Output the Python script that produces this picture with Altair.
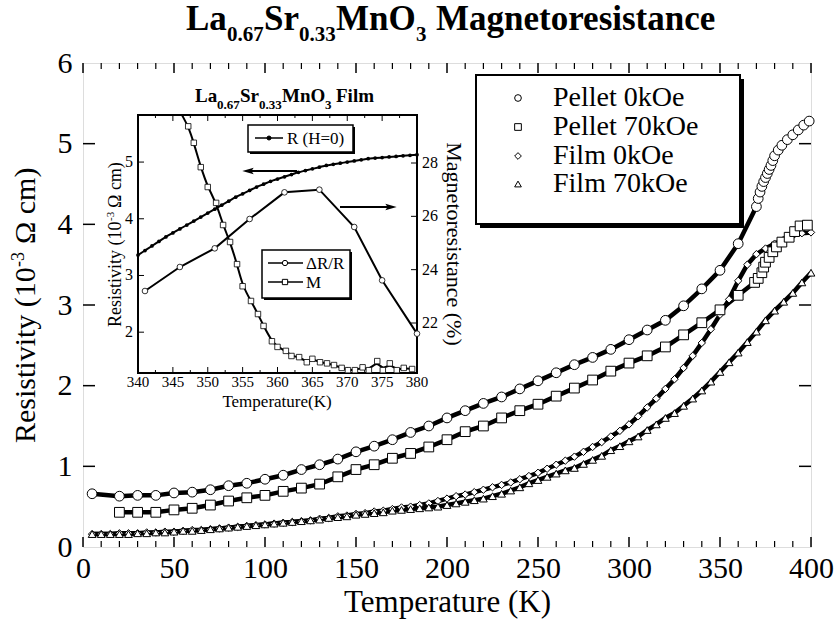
import altair as alt
import pandas as pd

FONT = "Liberation Serif"
W, H = 728, 484

# ---------------- main data (T in K, resistivity in 1e-3 ohm cm) ----------------
P0_T = [5, 20, 30, 40, 50, 60, 70, 80, 90, 100, 110, 120, 130, 140, 150, 160, 170, 180, 190, 200,
        210, 220, 230, 240, 250, 260, 270, 280, 290, 300, 310, 320, 330, 340, 350, 360, 370, 371,
        372, 373, 374, 375, 376, 377, 378, 379, 380, 382, 384, 387, 390, 393, 396, 399]
P0_R = [0.66, 0.63, 0.64, 0.64, 0.67, 0.68, 0.71, 0.76, 0.79, 0.84, 0.89, 0.96, 1.02, 1.09, 1.18, 1.25,
        1.33, 1.42, 1.50, 1.60, 1.69, 1.78, 1.86, 1.96, 2.06, 2.16, 2.26, 2.35, 2.45, 2.57, 2.69, 2.81,
        2.99, 3.20, 3.43, 3.76, 4.22, 4.32, 4.40, 4.47, 4.53, 4.58, 4.63, 4.68, 4.73, 4.79, 4.85, 4.92,
        4.98, 5.05, 5.11, 5.17, 5.23, 5.28]

P70_T = [20, 30, 40, 50, 60, 70, 80, 90, 100, 110, 120, 130, 140, 150, 160, 170, 180, 190, 200, 210,
         220, 230, 240, 250, 260, 270, 280, 290, 300, 310, 320, 330, 340, 350, 360, 369, 371, 373, 374,
         375, 377, 379, 381, 384, 388, 391, 394, 398]
P70_R = [0.43, 0.43, 0.43, 0.46, 0.48, 0.52, 0.57, 0.61, 0.64, 0.69, 0.73, 0.78, 0.87, 0.96, 1.02, 1.10,
         1.16, 1.24, 1.33, 1.43, 1.50, 1.60, 1.69, 1.77, 1.87, 1.97, 2.07, 2.18, 2.28, 2.37, 2.48, 2.63,
         2.78, 2.94, 3.12, 3.28, 3.33, 3.40, 3.47, 3.53, 3.59, 3.66, 3.72, 3.78, 3.84, 3.91, 3.98, 3.99]

FILM_T = [5, 10, 15, 20, 25, 30, 35, 40, 45, 50, 55, 60, 65, 70, 75, 80, 85, 90, 95, 100,
          105, 110, 115, 120, 125, 130, 135, 140, 145, 150, 155, 160, 165, 170, 175, 180, 185, 190, 195, 200,
          205, 210, 215, 220, 225, 230, 235, 240, 245, 250, 255, 260, 265, 270, 275, 280, 285, 290, 295, 300,
          305, 310, 315, 320, 325, 330, 335, 340, 345, 350, 355, 360, 365, 370, 375, 380, 385, 390, 395, 400]
F0_R = [0.16, 0.16, 0.16, 0.17, 0.17, 0.17, 0.18, 0.18, 0.19, 0.19, 0.20, 0.21, 0.21, 0.22, 0.23, 0.24,
        0.25, 0.26, 0.27, 0.28, 0.29, 0.30, 0.31, 0.32, 0.33, 0.35, 0.36, 0.38, 0.39, 0.41, 0.42, 0.44,
        0.45, 0.47, 0.49, 0.50, 0.52, 0.54, 0.57, 0.60, 0.63, 0.65, 0.68, 0.71, 0.74, 0.77, 0.80, 0.84,
        0.88, 0.92, 0.97, 1.02, 1.07, 1.12, 1.18, 1.24, 1.30, 1.37, 1.44, 1.52, 1.62, 1.73, 1.84, 1.96,
        2.08, 2.22, 2.37, 2.53, 2.70, 2.88, 3.07, 3.30, 3.50, 3.63, 3.70, 3.76, 3.81, 3.86, 3.89, 3.90]
F70_R = [0.16, 0.16, 0.16, 0.16, 0.16, 0.17, 0.17, 0.18, 0.18, 0.19, 0.20, 0.20, 0.21, 0.22, 0.23, 0.24,
         0.25, 0.26, 0.27, 0.28, 0.29, 0.30, 0.31, 0.32, 0.33, 0.34, 0.36, 0.37, 0.38, 0.40, 0.41, 0.42,
         0.43, 0.45, 0.46, 0.47, 0.48, 0.49, 0.50, 0.52, 0.54, 0.56, 0.58, 0.60, 0.63, 0.66, 0.70, 0.74,
         0.79, 0.83, 0.87, 0.91, 0.95, 0.98, 1.03, 1.08, 1.13, 1.20, 1.25, 1.31, 1.37, 1.45, 1.52, 1.60,
         1.66, 1.75, 1.84, 1.94, 2.05, 2.17, 2.29, 2.41, 2.54, 2.67, 2.81, 2.93, 3.04, 3.15, 3.28, 3.40]

LEGEND_LABELS = ["Pellet 0kOe", "Pellet 70kOe", "Film 0kOe", "Film 70kOe"]
LEGEND_SHAPES = ["circle", "square", "diamond", "triangle-up"]

MAIN_X_LABELS = [0, 50, 100, 150, 200, 250, 300, 350, 400]
MAIN_X_MINOR = [10, 20, 30, 40, 60, 70, 80, 90, 110, 120, 130, 140, 160, 170, 180, 190, 210, 220, 230, 240,
                260, 270, 280, 290, 310, 320, 330, 340, 360, 370, 380, 390]
MAIN_Y_LABELS = [0, 1, 2, 3, 4, 5, 6]
MAIN_Y_TICKS = [1, 2, 3, 4, 5]

TITLE_PARTS = ["La", "0.67", "Sr", "0.33", "MnO", "3", "Magnetoresistance"]
Y_TITLE_PARTS = ["Resistivity (10", "-3", "\u03a9 cm)"]

# ---------------- inset data ----------------
IN_R_T = [340, 341, 342, 343, 344, 345, 346, 347, 348, 349, 350, 351, 352, 353, 354, 355, 356, 357, 358,
          359, 360, 361, 362, 363, 364, 365, 366, 367, 368, 369, 370, 371, 372, 373, 374, 375, 376, 377,
          378, 379, 380]
IN_R = [3.36, 3.44, 3.52, 3.60, 3.68, 3.75, 3.82, 3.89, 3.96, 4.03, 4.10, 4.17, 4.24, 4.31, 4.38, 4.44,
        4.50, 4.56, 4.61, 4.66, 4.70, 4.74, 4.78, 4.82, 4.85, 4.88, 4.91, 4.94, 4.96, 4.98, 5.00, 5.02,
        5.04, 5.06, 5.07, 5.08, 5.09, 5.10, 5.11, 5.12, 5.13]
IN_DRR_T = [341, 346, 351, 356, 361, 366, 371, 375, 380]
IN_DRR = [23.2, 24.1, 24.8, 25.9, 26.9, 27.0, 25.6, 23.6, 21.6]
IN_M_T = [346.3, 347.2, 348.0, 349.0, 350.0, 351.2, 352.2, 353.2, 354.2, 355.0, 356.2, 357.2, 358.0,
          359.2, 360.0, 361.2, 362.0, 363.1, 364.2, 365.0, 366.1, 367.1, 368.1, 369.2, 370.1, 371.1,
          372.2, 373.1, 374.3, 375.1, 376.1, 377.1, 378.1, 379.3]
IN_M = [5.83, 5.63, 5.34, 4.91, 4.56, 4.28, 3.89, 3.59, 3.20, 2.81, 2.55, 2.32, 2.11, 1.84, 1.74, 1.67,
        1.58, 1.56, 1.47, 1.53, 1.47, 1.45, 1.42, 1.37, 1.33, 1.33, 1.38, 1.33, 1.49, 1.33, 1.45, 1.33,
        1.37, 1.35]
IN_X_LABELS = [340, 345, 350, 355, 360, 365, 370, 375, 380]
IN_X_MINOR = [342.5, 347.5, 352.5, 357.5, 362.5, 367.5, 372.5, 377.5]
IN_YL_LABELS = [2, 3, 4, 5]
IN_YR_LABELS = [22, 24, 26, 28]
INSET_TITLE_PARTS = ["La", "0.67", "Sr", "0.33", "MnO", "3", "Film"]
INSET_YL_PARTS = ["Resistivity (10", "-3", "\u03a9 cm)"]
INSET_YR_TITLE = "Magnetoresistance (%)"
INSET_X_TITLE = "Temperature(K)"
INSET_LEG = ["R (H=0)", "\u0394R/R", "M"]

ONE = pd.DataFrame({"a": [0]})


def xs():
    return alt.Scale(domain=[0, 400], nice=False, zero=False)


def ys():
    return alt.Scale(domain=[0, 6], nice=False, zero=False)


def ixs():
    return alt.Scale(domain=[340, 380], range=[55, 334], nice=False, zero=False)


def iyl():
    return alt.Scale(domain=[1.28, 5.83], range=[310, 52], nice=False, zero=False)


def iyr():
    return alt.Scale(domain=[20.125, 29.8], range=[310, 52], nice=False, zero=False)


def txt(s, x, y, size, bold=False, angle=0, align="left", baseline="alphabetic"):
    kw = dict(font=FONT, fontSize=size, fontWeight="bold" if bold else "normal",
              align=align, baseline=baseline, color="black")
    if angle:
        kw["angle"] = angle
    return alt.Chart(pd.DataFrame({"s": [s]})).mark_text(**kw).encode(
        x=alt.value(x), y=alt.value(y), text="s:N")


def rect(x1, y1, x2, y2, fill, stroke="black", sw=0):
    kw = dict(fill=fill)
    if sw:
        kw.update(stroke=stroke, strokeWidth=sw)
    return alt.Chart(ONE).mark_rect(**kw).encode(
        x=alt.value(x1), x2=alt.value(x2), y=alt.value(y1), y2=alt.value(y2))


def seg(x1, y1, x2, y2, sw=1.5):
    return alt.Chart(ONE).mark_rule(color="black", strokeWidth=sw).encode(
        x=alt.value(x1), x2=alt.value(x2), y=alt.value(y1), y2=alt.value(y2))


def sym(x, y, shape, size, fill="white", sw=1):
    return alt.Chart(ONE).mark_point(shape=shape, size=size, filled=True, fill=fill,
                                     stroke="black", strokeWidth=sw, opacity=1).encode(
        x=alt.value(x), y=alt.value(y))


layers = []

# ---- main axes (labels) with inward ticks ----
x_axis = alt.Axis(values=MAIN_X_LABELS, ticks=False, tickSize=0, domain=False, grid=False,
                  labelFont=FONT, labelFontSize=30, labelColor="black", labelPadding=6,
                  labelFlush=False, labelOverlap=False, format="d",
                  title="Temperature (K)", titleFont=FONT, titleFontSize=31,
                  titleFontWeight="normal", titleColor="black", titlePadding=4)
y_axis = alt.Axis(values=MAIN_Y_LABELS, ticks=False, tickSize=0, domain=False, grid=False,
                  labelFont=FONT, labelFontSize=30, labelColor="black", labelPadding=11,
                  labelFlush=False, labelOverlap=False, format="d", title=None)

dxm = pd.DataFrame({"v": MAIN_X_LABELS})
dxn = pd.DataFrame({"v": MAIN_X_MINOR})
dyt = pd.DataFrame({"v": MAIN_Y_TICKS})
layers.append(alt.Chart(dxm).mark_rule(color="black", strokeWidth=1.5).encode(
    x=alt.X("v:Q", scale=xs(), axis=x_axis), y=alt.value(H), y2=alt.value(H - 10)))
layers.append(alt.Chart(dxm).mark_rule(color="black", strokeWidth=1.5).encode(
    x=alt.X("v:Q", scale=xs(), axis=None), y=alt.value(0), y2=alt.value(10)))
layers.append(alt.Chart(dxn).mark_rule(color="black", strokeWidth=1.2).encode(
    x=alt.X("v:Q", scale=xs(), axis=None), y=alt.value(H), y2=alt.value(H - 6)))
layers.append(alt.Chart(dxn).mark_rule(color="black", strokeWidth=1.2).encode(
    x=alt.X("v:Q", scale=xs(), axis=None), y=alt.value(0), y2=alt.value(6)))
layers.append(alt.Chart(dyt).mark_rule(color="black", strokeWidth=1.5).encode(
    y=alt.Y("v:Q", scale=ys(), axis=y_axis), x=alt.value(0), x2=alt.value(12)))
layers.append(alt.Chart(dyt).mark_rule(color="black", strokeWidth=1.5).encode(
    y=alt.Y("v:Q", scale=ys(), axis=None), x=alt.value(W), x2=alt.value(W - 12)))

# ---- main series ----
series = [
    (FILM_T, F0_R, "diamond", 55),
    (FILM_T, F70_R, "triangle-up", 60),
    (P70_T, P70_R, "square", 95),
    (P0_T, P0_R, "circle", 95),
]
for T, R, shape, size in series:
    df = pd.DataFrame({"T": T, "R": R})
    base = alt.Chart(df).encode(x=alt.X("T:Q", scale=xs(), axis=None),
                                y=alt.Y("R:Q", scale=ys(), axis=None))
    layers.append(base.mark_line(color="black", strokeWidth=4.5))
for T, R, shape, size in series:
    df = pd.DataFrame({"T": T, "R": R})
    base = alt.Chart(df).encode(x=alt.X("T:Q", scale=xs(), axis=None),
                                y=alt.Y("R:Q", scale=ys(), axis=None))
    layers.append(base.mark_point(shape=shape, size=size, filled=True, fill="white",
                                  stroke="black", strokeWidth=1, opacity=1))

# ---- main title (with subscripts) ----
tx = [103, 144, 181, 216, 253, 333, 353]
for i, s in enumerate(TITLE_PARTS):
    sub = s in ("0.67", "0.33", "3")
    layers.append(txt(s, tx[i], -22 if sub else -33, 21 if sub else 35, bold=True))

# ---- main y title (with superscript) ----
layers.append(txt(Y_TITLE_PARTS[0], -48, 380, 30, angle=270))
layers.append(txt(Y_TITLE_PARTS[1], -59, 204, 18, angle=270))
layers.append(txt(Y_TITLE_PARTS[2], -48, 181, 30, angle=270))

# ---- main legend ----
layers.append(rect(397, 16, 661, 165, "black"))
layers.append(rect(393, 12, 657, 161, "white", sw=2))
ly = [35, 64, 93, 121]
for i, lab in enumerate(LEGEND_LABELS):
    layers.append(sym(435, ly[i], LEGEND_SHAPES[i], 45))
    layers.append(txt(lab, 470, ly[i], 28, baseline="middle"))

# ---- inset frame ----
layers.append(rect(55, 52, 334, 310, "white", sw=2))

# inset ticks
dix = pd.DataFrame({"v": IN_X_LABELS})
dixn = pd.DataFrame({"v": IN_X_MINOR})
dyl = pd.DataFrame({"v": IN_YL_LABELS})
dyr = pd.DataFrame({"v": IN_YR_LABELS})
layers.append(alt.Chart(dix).mark_rule(color="black", strokeWidth=1).encode(
    x=alt.X("v:Q", scale=ixs(), axis=None), y=alt.value(310), y2=alt.value(304)))
layers.append(alt.Chart(dix).mark_rule(color="black", strokeWidth=1).encode(
    x=alt.X("v:Q", scale=ixs(), axis=None), y=alt.value(52), y2=alt.value(58)))
layers.append(alt.Chart(dixn).mark_rule(color="black", strokeWidth=1).encode(
    x=alt.X("v:Q", scale=ixs(), axis=None), y=alt.value(310), y2=alt.value(307)))
layers.append(alt.Chart(dixn).mark_rule(color="black", strokeWidth=1).encode(
    x=alt.X("v:Q", scale=ixs(), axis=None), y=alt.value(52), y2=alt.value(55)))
layers.append(alt.Chart(dyl).mark_rule(color="black", strokeWidth=1).encode(
    y=alt.Y("v:Q", scale=iyl(), axis=None), x=alt.value(55), x2=alt.value(61)))
layers.append(alt.Chart(dyr).mark_rule(color="black", strokeWidth=1).encode(
    y=alt.Y("v:Q", scale=iyr(), axis=None), x=alt.value(334), x2=alt.value(328)))

# inset tick labels
layers.append(alt.Chart(dix).mark_text(font=FONT, fontSize=15, baseline="middle", color="black").encode(
    x=alt.X("v:Q", scale=ixs(), axis=None), y=alt.value(319), text=alt.Text("v:Q", format="d")))
layers.append(alt.Chart(dyl).mark_text(font=FONT, fontSize=16, baseline="middle", align="right",
                                       color="black").encode(
    y=alt.Y("v:Q", scale=iyl(), axis=None), x=alt.value(50), text=alt.Text("v:Q", format="d")))
layers.append(alt.Chart(dyr).mark_text(font=FONT, fontSize=16, baseline="middle", align="left",
                                       color="black").encode(
    y=alt.Y("v:Q", scale=iyr(), axis=None), x=alt.value(339), text=alt.Text("v:Q", format="d")))

# inset titles
itx = [112, 134, 157, 176, 199, 242, 253]
for i, s in enumerate(INSET_TITLE_PARTS):
    sub = s in ("0.67", "0.33", "3")
    layers.append(txt(s, itx[i], 46 if sub else 39, 13 if sub else 19, bold=True))
layers.append(txt(INSET_X_TITLE, 194, 339, 17, align="center", baseline="middle"))
layers.append(txt(INSET_YL_PARTS[0], 38, 264, 18, angle=270))
layers.append(txt(INSET_YL_PARTS[1], 31, 158, 11, angle=270))
layers.append(txt(INSET_YL_PARTS[2], 38, 145, 18, angle=270))
layers.append(txt(INSET_YR_TITLE, 364, 181, 22, angle=90, align="center"))

# inset data
dR = pd.DataFrame({"T": IN_R_T, "v": IN_R})
dD = pd.DataFrame({"T": IN_DRR_T, "v": IN_DRR})
dM = pd.DataFrame({"T": IN_M_T, "v": IN_M})
bR = alt.Chart(dR).encode(x=alt.X("T:Q", scale=ixs(), axis=None), y=alt.Y("v:Q", scale=iyl(), axis=None))
bD = alt.Chart(dD).encode(x=alt.X("T:Q", scale=ixs(), axis=None), y=alt.Y("v:Q", scale=iyr(), axis=None))
bM = alt.Chart(dM).encode(x=alt.X("T:Q", scale=ixs(), axis=None), y=alt.Y("v:Q", scale=iyl(), axis=None))
layers.append(bM.mark_line(color="black", strokeWidth=2, interpolate="basis"))
layers.append(bM.transform_filter("datum.T > 347").mark_point(shape="square", size=30, filled=True,
                                                              fill="white", stroke="black",
                                                              strokeWidth=0.8, opacity=1))
layers.append(bD.mark_line(color="black", strokeWidth=2))
layers.append(bD.mark_point(shape="circle", size=32, filled=True, fill="white", stroke="black",
                            strokeWidth=0.8, opacity=1))
layers.append(bR.mark_line(color="black", strokeWidth=2, interpolate="monotone"))
layers.append(bR.mark_point(shape="circle", size=14, filled=True, color="black", opacity=1))

# inset legends
layers.append(rect(167, 64, 272, 91, "black"))
layers.append(rect(165, 62, 270, 89, "white", sw=1.5))
layers.append(seg(172, 75, 200, 75))
layers.append(sym(186, 75, "circle", 16, fill="black"))
layers.append(txt(INSET_LEG[0], 204, 76, 17, baseline="middle"))

layers.append(rect(181, 189, 269, 237, "black"))
layers.append(rect(179, 187, 267, 235, "white", sw=1.5))
layers.append(seg(185, 200, 220, 200))
layers.append(sym(202, 200, "circle", 28))
layers.append(txt(INSET_LEG[1], 223, 201, 17, baseline="middle"))
layers.append(seg(185, 219, 220, 219))
layers.append(sym(202, 219, "square", 28))
layers.append(txt(INSET_LEG[2], 223, 220, 17, baseline="middle"))

# arrows
layers.append(seg(163, 108, 214, 108, sw=2))
layers.append(alt.Chart(ONE).mark_point(shape="M -1 0 L 1 -0.55 L 0.6 0 L 1 0.55 Z", size=130,
                                        filled=True, color="black", opacity=1).encode(
    x=alt.value(165), y=alt.value(108)))
layers.append(seg(257, 144, 309, 144, sw=2))
layers.append(alt.Chart(ONE).mark_point(shape="M 1 0 L -1 -0.55 L -0.6 0 L -1 0.55 Z", size=130,
                                        filled=True, color="black", opacity=1).encode(
    x=alt.value(308), y=alt.value(144)))

chart = alt.layer(*layers).resolve_scale(x="independent", y="independent").properties(
    width=W, height=H,
    autosize=alt.AutoSizeParams(type="none"),
    padding={"left": 83, "top": 63, "right": 25, "bottom": 77},
).configure_view(stroke="black", strokeWidth=2.5).configure(background="white")

chart.save("out.html", embed_options={"renderer": "svg", "actions": False})
